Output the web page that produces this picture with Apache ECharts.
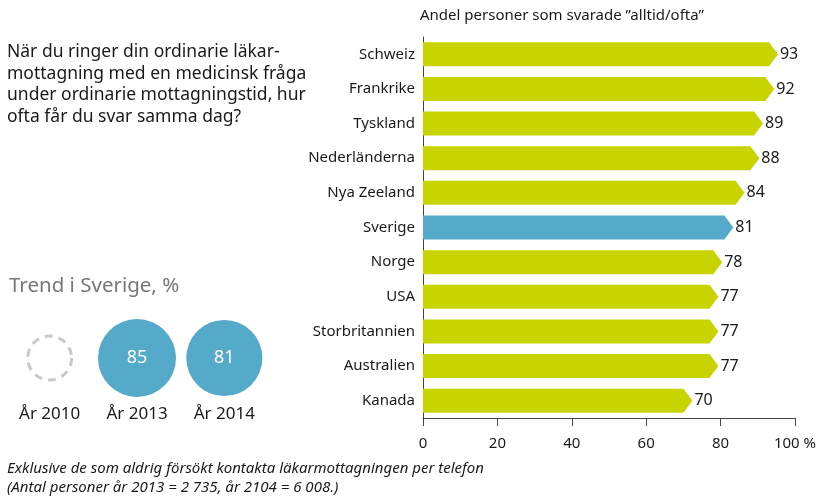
<!DOCTYPE html>
<html>
<head>
<meta charset="utf-8">
<script src="https://cdn.jsdelivr.net/npm/echarts@6/dist/echarts.min.js"></script>
<style>
  html, body { margin: 0; padding: 0; background: #fff; }
  #main { width: 824px; height: 503px; }
</style>
</head>
<body>
<div id="main"></div>
<script>
// länder och andel "alltid/ofta"
const countries = ['Schweiz', 'Frankrike', 'Tyskland', 'Nederländerna', 'Nya Zeeland', 'Sverige', 'Norge', 'USA', 'Storbritannien', 'Australien', 'Kanada'];
const shares = [93, 92, 89, 88, 84, 81, 78, 77, 77, 77, 70];
const xTicks = [0, 20, 40, 60, 80, 100];

// trend i Sverige
const trendYears = ['År 2010', 'År 2013', 'År 2014'];
const trendValues = [null, 85, 81];

const GREEN = '#c8d400';
const BLUE = '#55a9c9';
const FONT = 'Noto Sans';

const chart = echarts.init(document.getElementById('main'));

function renderArrow(params, api) {
  const idx = api.value(1);
  const val = api.value(0);
  const start = api.coord([0, idx]);
  const end = api.coord([val, idx]);
  const h = 24;
  const tip = 9;
  const y = start[1];
  const color = countries[idx] === 'Sverige' ? BLUE : GREEN;
  return {
    type: 'group',
    children: [{
      type: 'polygon',
      shape: {
        points: [
          [start[0], y - h / 2],
          [end[0], y - h / 2],
          [end[0] + tip, y],
          [end[0], y + h / 2],
          [start[0], y + h / 2]
        ]
      },
      style: { fill: color }
    }, {
      type: 'text',
      x: end[0] + tip + 2,
      y: y,
      style: {
        text: String(val),
        fill: '#1a1a1a',
        font: '16px "' + FONT + '"',
        verticalAlign: 'middle',
        align: 'left'
      }
    }]
  };
}

// punkter för cirklarna
const filledPts = [];
const emptyPts = [];
trendValues.forEach((v, i) => {
  if (v == null) emptyPts.push([i, 0]);
  else filledPts.push([i, 0, v]);
});

const option = {
  animation: false,
  textStyle: { fontFamily: FONT },
  grid: [
    { left: 423, top: 37, width: 372, height: 381 },
    { left: 6, top: 318, width: 262, height: 80 }
  ],
  xAxis: [{
    gridIndex: 0,
    type: 'value',
    min: xTicks[0],
    max: xTicks[xTicks.length - 1],
    interval: 20,
    splitLine: { show: false },
    axisLine: { show: true, lineStyle: { color: '#444', width: 1 } },
    axisTick: { show: true, length: 8, lineStyle: { color: '#444' } },
    axisLabel: {
      color: '#1a1a1a',
      fontSize: 15,
      margin: 18,
      formatter: v => (v === 100 ? '100 %' : String(v))
    }
  }, {
    gridIndex: 1,
    type: 'category',
    data: trendYears,
    axisLine: { show: false },
    axisTick: { show: false },
    axisLabel: { color: '#1a1a1a', fontSize: 17, margin: 8 }
  }],
  yAxis: [{
    gridIndex: 0,
    type: 'category',
    data: countries,
    inverse: true,
    axisLine: { show: true, lineStyle: { color: '#444', width: 1 } },
    axisTick: { show: false },
    axisLabel: { color: '#1a1a1a', fontSize: 15, margin: 8 }
  }, {
    gridIndex: 1,
    type: 'value',
    min: -1,
    max: 1,
    show: false
  }],
  series: [{
    type: 'custom',
    xAxisIndex: 0,
    yAxisIndex: 0,
    renderItem: renderArrow,
    encode: { x: 0, y: 1 },
    data: shares.map((v, i) => [v, i])
  }, {
    // cirklar med värden
    type: 'scatter',
    xAxisIndex: 1,
    yAxisIndex: 1,
    data: filledPts,
    symbolSize: d => (d && d[2] ? Math.sqrt(d[2] / 85) * 78 : 0),
    itemStyle: { color: BLUE, opacity: 1 },
    label: {
      show: true,
      position: 'inside',
      formatter: p => p.value[2],
      color: '#fff',
      fontSize: 18
    }
  }, {
    // saknat värde 2010
    type: 'scatter',
    xAxisIndex: 1,
    yAxisIndex: 1,
    data: emptyPts,
    symbolSize: 44,
    itemStyle: {
      color: 'rgba(0,0,0,0)',
      borderColor: '#bbb',
      borderWidth: 3,
      borderType: [8, 6]
    }
  }],
  graphic: [{
    type: 'text',
    left: 420,
    top: 8,
    style: {
      text: 'Andel personer som svarade ”alltid/ofta”',
      font: '15px "' + FONT + '"',
      fill: '#1a1a1a'
    }
  }, {
    type: 'text',
    left: 7,
    top: 41,
    style: {
      text: 'När du ringer din ordinarie läkar-\nmottagning med en medicinsk fråga\nunder ordinarie mottagningstid, hur\nofta får du svar samma dag?',
      font: '17.5px "' + FONT + '"',
      lineHeight: 21.7,
      fill: '#1a1a1a'
    }
  }, {
    type: 'text',
    left: 9,
    top: 276,
    style: {
      text: 'Trend i Sverige, %',
      font: '20.5px "' + FONT + '"',
      fill: '#777'
    }
  }, {
    type: 'text',
    left: 7,
    top: 459,
    style: {
      text: 'Exklusive de som aldrig försökt kontakta läkarmottagningen per telefon\n(Antal personer år 2013 = 2 735, år 2104 = 6 008.)',
      font: 'italic 15px "' + FONT + '"',
      lineHeight: 19,
      fill: '#1a1a1a'
    }
  }]
};

chart.setOption(option);
</script>
</body>
</html>
